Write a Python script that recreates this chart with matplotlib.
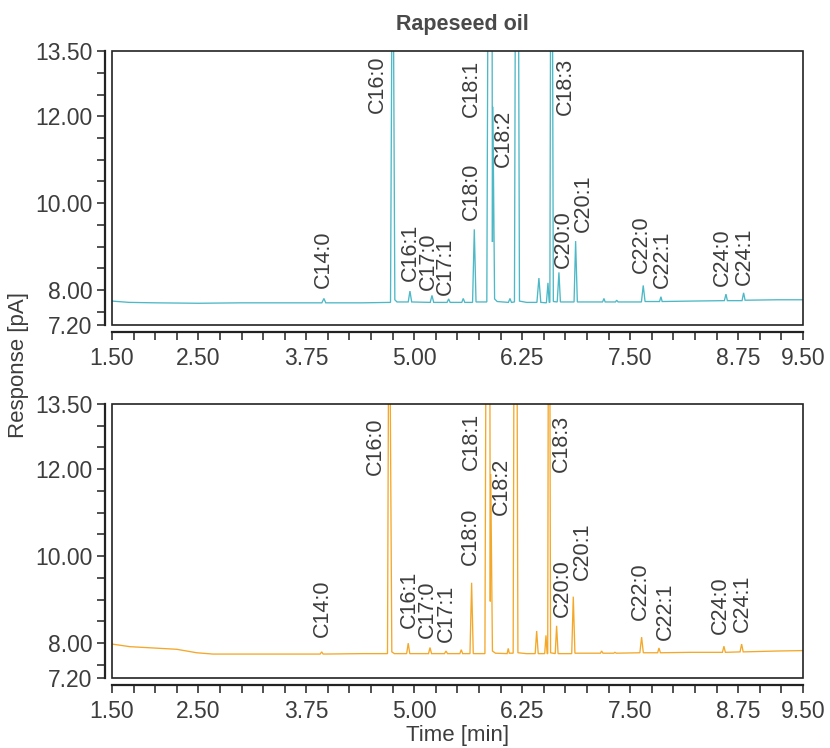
import matplotlib
matplotlib.use("Agg")
import matplotlib.pyplot as plt
from matplotlib.ticker import FixedLocator, MultipleLocator, FormatStrFormatter
from matplotlib.patches import Rectangle

plt.rcParams['font.family'] = ['Liberation Sans', 'DejaVu Sans']

# trace vertices (time in min, response in pA)
# peaks going above 13.50 are off scale and cut by the axis
top_time = [1.50, 1.70, 2.00, 2.50, 3.00, 3.50, 3.93, 3.954, 3.975, 4.40, 4.725, 4.745, 4.755, 4.775, 4.80,
            4.93, 4.950, 4.97, 5.185, 5.205, 5.225, 5.38, 5.398, 5.415, 5.55, 5.567, 5.585, 5.675, 5.695, 5.715,
            5.840, 5.855, 5.900, 5.905, 5.910, 5.930, 5.96, 6.09, 6.108, 6.125, 6.160, 6.172, 6.205, 6.218,
            6.30, 6.42, 6.443, 6.465, 6.53, 6.548, 6.562, 6.570, 6.580, 6.598, 6.610, 6.655, 6.675, 6.692,
            6.85, 6.868, 6.888, 7.18, 7.196, 7.21, 7.33, 7.343, 7.36, 7.63, 7.651, 7.672, 7.84, 7.856, 7.87,
            8.20, 8.59, 8.609, 8.625, 8.795, 8.813, 8.83, 9.20, 9.50]
top_resp = [7.75, 7.72, 7.71, 7.70, 7.71, 7.71, 7.71, 7.81, 7.71, 7.71, 7.72, 16.0, 16.0, 7.78, 7.73,
            7.73, 7.98, 7.73, 7.72, 7.88, 7.72, 7.72, 7.80, 7.72, 7.72, 7.81, 7.72, 7.72, 9.40, 7.73,
            7.73, 16.0, 16.0, 9.11, 12.22, 7.80, 7.74, 7.72, 7.81, 7.72, 7.73, 16.0, 16.0, 7.75,
            7.72, 7.72, 8.28, 7.72, 7.71, 8.17, 7.72, 7.72, 16.0, 16.0, 7.74, 7.73, 8.41, 7.73,
            7.73, 9.13, 7.73, 7.73, 7.81, 7.73, 7.73, 7.77, 7.73, 7.73, 8.11, 7.74, 7.74, 7.85, 7.74,
            7.75, 7.76, 7.91, 7.76, 7.76, 7.94, 7.77, 7.78, 7.78]

bottom_time = [1.50, 1.708, 2.249, 2.481, 2.669, 3.20, 3.91, 3.928, 3.945, 4.40, 4.69, 4.705, 4.715, 4.74, 4.77,
               4.912, 4.930, 4.948, 5.165, 5.182, 5.20, 5.35, 5.367, 5.385, 5.528, 5.544, 5.56, 5.645, 5.664,
               5.683, 5.818, 5.832, 5.874, 5.880, 5.885, 5.905, 5.94, 6.075, 6.088, 6.10, 6.145, 6.156, 6.188,
               6.200, 6.30, 6.40, 6.417, 6.435, 6.51, 6.525, 6.538, 6.545, 6.553, 6.568, 6.578, 6.632, 6.648,
               6.665, 6.823, 6.841, 6.860, 7.155, 7.169, 7.185, 7.31, 7.323, 7.34, 7.612, 7.632, 7.652, 7.818,
               7.833, 7.85, 8.20, 8.568, 8.585, 8.602, 8.772, 8.790, 8.808, 9.20, 9.50]
bottom_resp = [7.98, 7.92, 7.86, 7.78, 7.75, 7.75, 7.75, 7.80, 7.75, 7.76, 7.76, 16.0, 16.0, 7.80, 7.76,
               7.76, 8.00, 7.76, 7.76, 7.90, 7.76, 7.76, 7.82, 7.76, 7.76, 7.85, 7.76, 7.76, 9.39,
               7.76, 7.76, 16.0, 16.0, 8.96, 11.89, 7.82, 7.77, 7.76, 7.88, 7.77, 7.77, 16.0, 16.0,
               7.78, 7.76, 7.76, 8.28, 7.76, 7.76, 8.18, 7.76, 7.76, 16.0, 16.0, 7.78, 7.76, 8.40,
               7.76, 7.76, 9.07, 7.77, 7.77, 7.82, 7.77, 7.77, 7.79, 7.77, 7.78, 8.14, 7.78, 7.78,
               7.89, 7.78, 7.79, 7.79, 7.93, 7.79, 7.80, 7.98, 7.80, 7.82, 7.83]

peak_names = ['C14:0', 'C16:0', 'C16:1', 'C17:0', 'C17:1', 'C18:0', 'C18:1', 'C18:2',
              'C18:3', 'C20:0', 'C20:1', 'C22:0', 'C22:1', 'C24:0', 'C24:1']

# where each rotated label starts (time, response)
top_label_x = [3.943, 4.568, 4.958, 5.166, 5.363, 5.664, 5.664, 6.036, 6.754, 6.731, 6.963, 7.624, 7.867, 8.563, 8.818]
top_label_y = [8.05, 12.07, 8.21, 8.00, 7.88, 9.61, 11.98, 10.83, 12.03, 8.51, 9.33, 8.39, 8.05, 8.09, 8.12]
bottom_label_x = [3.937, 4.545, 4.938, 5.153, 5.368, 5.654, 5.664, 6.011, 6.698, 6.710, 6.947, 7.619, 7.908, 8.548, 8.799]
bottom_label_y = [8.15, 11.87, 8.34, 8.11, 8.03, 9.80, 11.98, 10.95, 11.94, 8.61, 9.45, 8.53, 8.07, 8.22, 8.26]

x_ticks = [1.50, 2.50, 3.75, 5.00, 6.25, 7.50, 8.75, 9.50]
y_ticks = [7.20, 8.00, 10.00, 12.00, 13.50]

text_color = '#3d3d3d'
frame_color = '#222222'

fig = plt.figure(figsize=(8.30, 7.48), dpi=100)
ax_top = fig.add_axes([0.1349, 0.5655, 0.8325, 0.3663])
ax_bot = fig.add_axes([0.1349, 0.0936, 0.8325, 0.3663])

panels = [
    (ax_top, top_time, top_resp, '#4db8c6', top_label_x, top_label_y),
    (ax_bot, bottom_time, bottom_resp, '#f4a82a', bottom_label_x, bottom_label_y),
]

for ax, t, r, color, lx, ly in panels:
    ax.plot(t, r, color=color, lw=0.95, solid_joinstyle='miter')
    ax.set_xlim(1.5, 9.5)
    ax.set_ylim(7.2, 13.5)

    for name, x, y in zip(peak_names, lx, ly):
        ax.text(x, y, name, rotation=90, ha='center', va='bottom',
                fontsize=15.5, color=text_color)

    # box around the plot area
    ax.add_patch(Rectangle((0, 0), 1, 1, transform=ax.transAxes, fill=False,
                           edgecolor=frame_color, lw=1.2, clip_on=False, zorder=5))
    ax.spines['top'].set_visible(False)
    ax.spines['right'].set_visible(False)
    ax.spines['left'].set_position(('outward', 5))
    ax.spines['bottom'].set_position(('outward', 5))
    ax.spines['left'].set_linewidth(1.6)
    ax.spines['bottom'].set_linewidth(1.6)
    ax.spines['left'].set_color(frame_color)
    ax.spines['bottom'].set_color(frame_color)

    ax.xaxis.set_major_locator(FixedLocator(x_ticks))
    ax.xaxis.set_minor_locator(MultipleLocator(0.25))
    ax.yaxis.set_major_locator(FixedLocator(y_ticks))
    ax.yaxis.set_minor_locator(MultipleLocator(0.5))
    ax.xaxis.set_major_formatter(FormatStrFormatter('%.2f'))
    ax.yaxis.set_major_formatter(FormatStrFormatter('%.2f'))
    ax.tick_params(which='both', direction='out', length=6, width=1.1,
                   color=frame_color, labelcolor=text_color, labelsize=16.5)
    ax.tick_params(axis='x', pad=5)
    ax.tick_params(axis='y', pad=3)

fig.text(0.557, 0.967, 'Rapeseed oil', ha='center', va='center',
         fontsize=15.5, fontweight='bold', color='#4a4a4a')
fig.text(0.022, 1 - 365 / 748, 'Response [pA]', rotation=90, ha='center', va='center',
         fontsize=16, color=text_color)
fig.text(0.551, 1 - 736 / 748, 'Time [min]', ha='center', va='center',
         fontsize=16, color=text_color)

fig.savefig('out.png', dpi=100)
